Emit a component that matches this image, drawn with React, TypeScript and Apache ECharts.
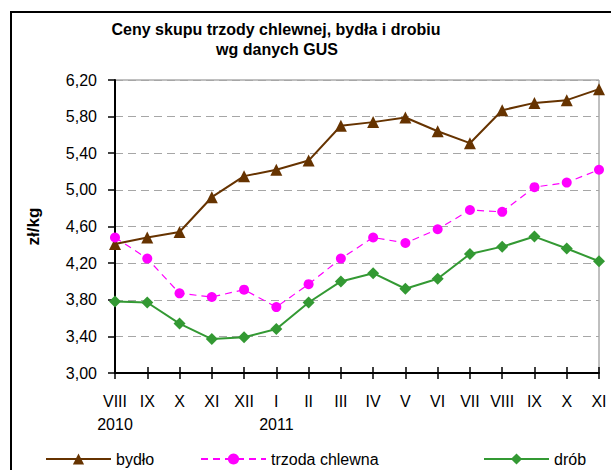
import React, { useEffect, useRef } from "react";
import * as echarts from "echarts";

const months = ["VIII", "IX", "X", "XI", "XII", "I", "II", "III", "IV", "V", "VI", "VII", "VIII", "IX", "X", "XI"];
const years = ["2010", "", "", "", "", "2011", "", "", "", "", "", "", "", "", "", ""];
const bydlo = [4.41, 4.48, 4.54, 4.92, 5.15, 5.22, 5.32, 5.7, 5.74, 5.79, 5.64, 5.51, 5.87, 5.95, 5.98, 6.1];
const trzoda = [4.48, 4.25, 3.87, 3.83, 3.91, 3.72, 3.97, 4.25, 4.48, 4.42, 4.57, 4.78, 4.76, 5.03, 5.08, 5.22];
const drob = [3.78, 3.77, 3.54, 3.37, 3.39, 3.48, 3.77, 4.0, 4.09, 3.92, 4.03, 4.3, 4.38, 4.49, 4.36, 4.22];
const seriesNames = ["bydło", "trzoda chlewna", "drób"];
const titleLines = ["Ceny skupu trzody chlewnej, bydła i drobiu", "wg danych GUS"];
const yName = "zł/kg";

const FONT = "'Liberation Sans', Arial, sans-serif";

export default function App() {
  const ref = useRef<HTMLDivElement>(null);
  useEffect(() => {
    if (!ref.current) return;
    const chart = echarts.init(ref.current, undefined, { renderer: "svg" });
    const cats = months.map((m, i) => (years[i] ? m + "\n" + years[i] : m));
    const legendBase = {
      orient: "horizontal" as const,
      top: 451,
      padding: 0,
      itemWidth: 65,
      itemHeight: 14,
      itemGap: 8,
      textStyle: { fontSize: 16, lineHeight: 16, color: "#000", fontFamily: FONT },
    };
    chart.setOption({
      animation: false,
      backgroundColor: "#fff",
      textStyle: { fontFamily: FONT },
      graphic: [
        {
          type: "rect",
          shape: { x: 11, y: 12, width: 700, height: 600 },
          style: { fill: "none", stroke: "#000", lineWidth: 2 },
          silent: true,
        },
        {
          type: "text",
          x: 276,
          y: 21,
          style: {
            text: titleLines[0],
            textAlign: "center",
            textVerticalAlign: "top",
            font: `bold 16px ${FONT}`,
            fill: "#000",
          },
        },
        {
          type: "text",
          x: 277,
          y: 41,
          style: {
            text: titleLines[1],
            textAlign: "center",
            textVerticalAlign: "top",
            font: `bold 16px ${FONT}`,
            fill: "#000",
          },
        },
      ],
      legend: [
        { ...legendBase, left: 45, data: [seriesNames[0]] },
        { ...legendBase, left: 200, data: [seriesNames[1]] },
        { ...legendBase, left: 483, data: [seriesNames[2]] },
      ],
      grid: {
        left: 115,
        right: 12,
        top: 80,
        bottom: 97,
        show: true,
        borderColor: "#808080",
        borderWidth: 1,
        backgroundColor: "transparent",
      },
      xAxis: [
        {
          type: "category",
          data: cats,
          boundaryGap: false,
          position: "bottom",
          axisLine: { lineStyle: { color: "#000", width: 2 } },
          axisTick: { show: true, length: 6, lineStyle: { color: "#000", width: 1.5 }, interval: 0 },
          axisLabel: {
            interval: 0,
            margin: 17,
            fontSize: 16,
            lineHeight: 23,
            color: "#000",
            fontFamily: FONT,
          },
          splitLine: { show: false },
        },
        {
          type: "category",
          data: cats,
          boundaryGap: false,
          position: "bottom",
          axisLine: { show: false },
          axisTick: { show: true, inside: true, length: 6, lineStyle: { color: "#000", width: 1.5 }, interval: 0 },
          axisLabel: { show: false },
          splitLine: { show: false },
        },
      ],
      yAxis: {
        type: "value",
        min: 3.0,
        max: 6.2,
        interval: 0.4,
        name: yName,
        nameLocation: "middle",
        nameRotate: 90,
        nameGap: 73,
        nameTextStyle: { fontSize: 17, fontWeight: "bold", color: "#000", fontFamily: FONT },
        axisLine: { show: true, lineStyle: { color: "#000", width: 2 } },
        axisTick: { show: true, length: 7, lineStyle: { color: "#000", width: 1.5 } },
        axisLabel: {
          margin: 18,
          fontSize: 16,
          color: "#000",
          fontFamily: FONT,
          formatter: (v: number) => v.toFixed(2).replace(".", ","),
        },
        splitLine: { show: true, lineStyle: { color: "#a6a6a6", type: [8, 5], width: 1 } },
      },
      series: [
        {
          name: seriesNames[0],
          type: "line",
          data: bydlo,
          symbol: "triangle",
          symbolSize: 12,
          lineStyle: { color: "#663300", width: 2 },
          itemStyle: { color: "#663300" },
        },
        {
          name: seriesNames[1],
          type: "line",
          data: trzoda,
          symbol: "circle",
          symbolSize: 10,
          lineStyle: { color: "#ff00ff", width: 1.2, type: [7, 5] },
          itemStyle: { color: "#ff00ff" },
        },
        {
          name: seriesNames[2],
          type: "line",
          data: drob,
          symbol: "diamond",
          symbolSize: 12,
          lineStyle: { color: "#339933", width: 2 },
          itemStyle: { color: "#339933" },
        },
      ],
    });
    return () => chart.dispose();
  }, []);
  return <div ref={ref} style={{ width: 611, height: 470, position: "absolute", left: 0, top: 0 }} />;
}
